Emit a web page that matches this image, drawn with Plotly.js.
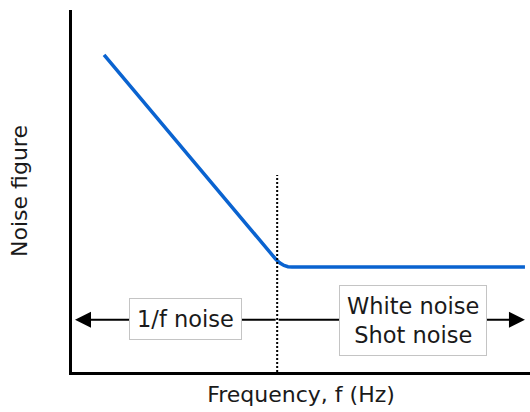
<!DOCTYPE html>
<html><head><meta charset="utf-8">
<script src="https://cdn.plot.ly/plotly-3.0.1.min.js"></script>
<style>html,body{margin:0;padding:0;background:#fff;}#chart{width:530px;height:412px;}</style>
</head><body><div id="chart"></div>
<script>
// Noise curve (arbitrary units, 0-100 on both axes)
var freq = [7.0, 43.67, 44.54, 45.41, 46.29, 47.16, 48.03, 98.9];
var noise = [87.6, 32.32, 31.08, 30.11, 29.42, 29.09, 29.01, 29.01];
// Corner frequency marker
var cornerX = [44.8, 44.8];
var cornerY = [0, 54.4];
// Region arrow
var arrowY = 14.4;
var arrowLeft = 0.65, arrowRight = 98.9, arrowMid = 44.8;
var labels = ["1/f noise", "White noise<br>Shot noise"];
var labelX = [24.8, 74.5];
var labelY = [14.6, 14.2];

var fontFam = "DejaVu Sans, Verdana, sans-serif";
var traces = [
  {x: freq, y: noise, mode: "lines", line: {color: "#0a63d0", width: 3.5}, hoverinfo: "skip"},
  {x: cornerX, y: cornerY, mode: "lines", line: {color: "#000", width: 2, dash: "2px,2px"}, hoverinfo: "skip"}
];
var ann = [
  {x: arrowLeft, y: arrowY, ax: arrowMid, ay: arrowY, xref: "x", yref: "y", axref: "x", ayref: "y", text: "", showarrow: true, arrowhead: 2, arrowsize: 1.6, arrowwidth: 2, arrowcolor: "#000"},
  {x: arrowRight, y: arrowY, ax: arrowMid, ay: arrowY, xref: "x", yref: "y", axref: "x", ayref: "y", text: "", showarrow: true, arrowhead: 2, arrowsize: 1.6, arrowwidth: 2, arrowcolor: "#000"}
];
for (var i = 0; i < labels.length; i++) {
  ann.push({x: labelX[i], y: labelY[i], xref: "x", yref: "y", text: labels[i], showarrow: false,
    font: {family: fontFam, size: 22.5, color: "#1a1a1a"}, bgcolor: "#fff", bordercolor: "#c4c4c4", borderwidth: 1, borderpad: 7});
}
var layout = {
  width: 530, height: 412,
  margin: {l: 72, r: 0, t: 10, b: 40},
  paper_bgcolor: "#fff", plot_bgcolor: "#fff",
  showlegend: false,
  font: {family: fontFam, color: "#1a1a1a"},
  xaxis: {range: [0, 100], showgrid: false, zeroline: false, showticklabels: false, ticks: "",
    showline: true, linecolor: "#000", linewidth: 3,
    title: {text: "Frequency, f (Hz)", font: {family: fontFam, size: 22, color: "#1a1a1a"}, standoff: 13}},
  yaxis: {range: [0, 100], showgrid: false, zeroline: false, showticklabels: false, ticks: "",
    showline: true, linecolor: "#000", linewidth: 3,
    title: {text: "Noise figure", font: {family: fontFam, size: 22, color: "#1a1a1a"}, standoff: 36}},
  annotations: ann
};
Plotly.newPlot("chart", traces, layout, {displayModeBar: false, staticPlot: true});
</script></body></html>
